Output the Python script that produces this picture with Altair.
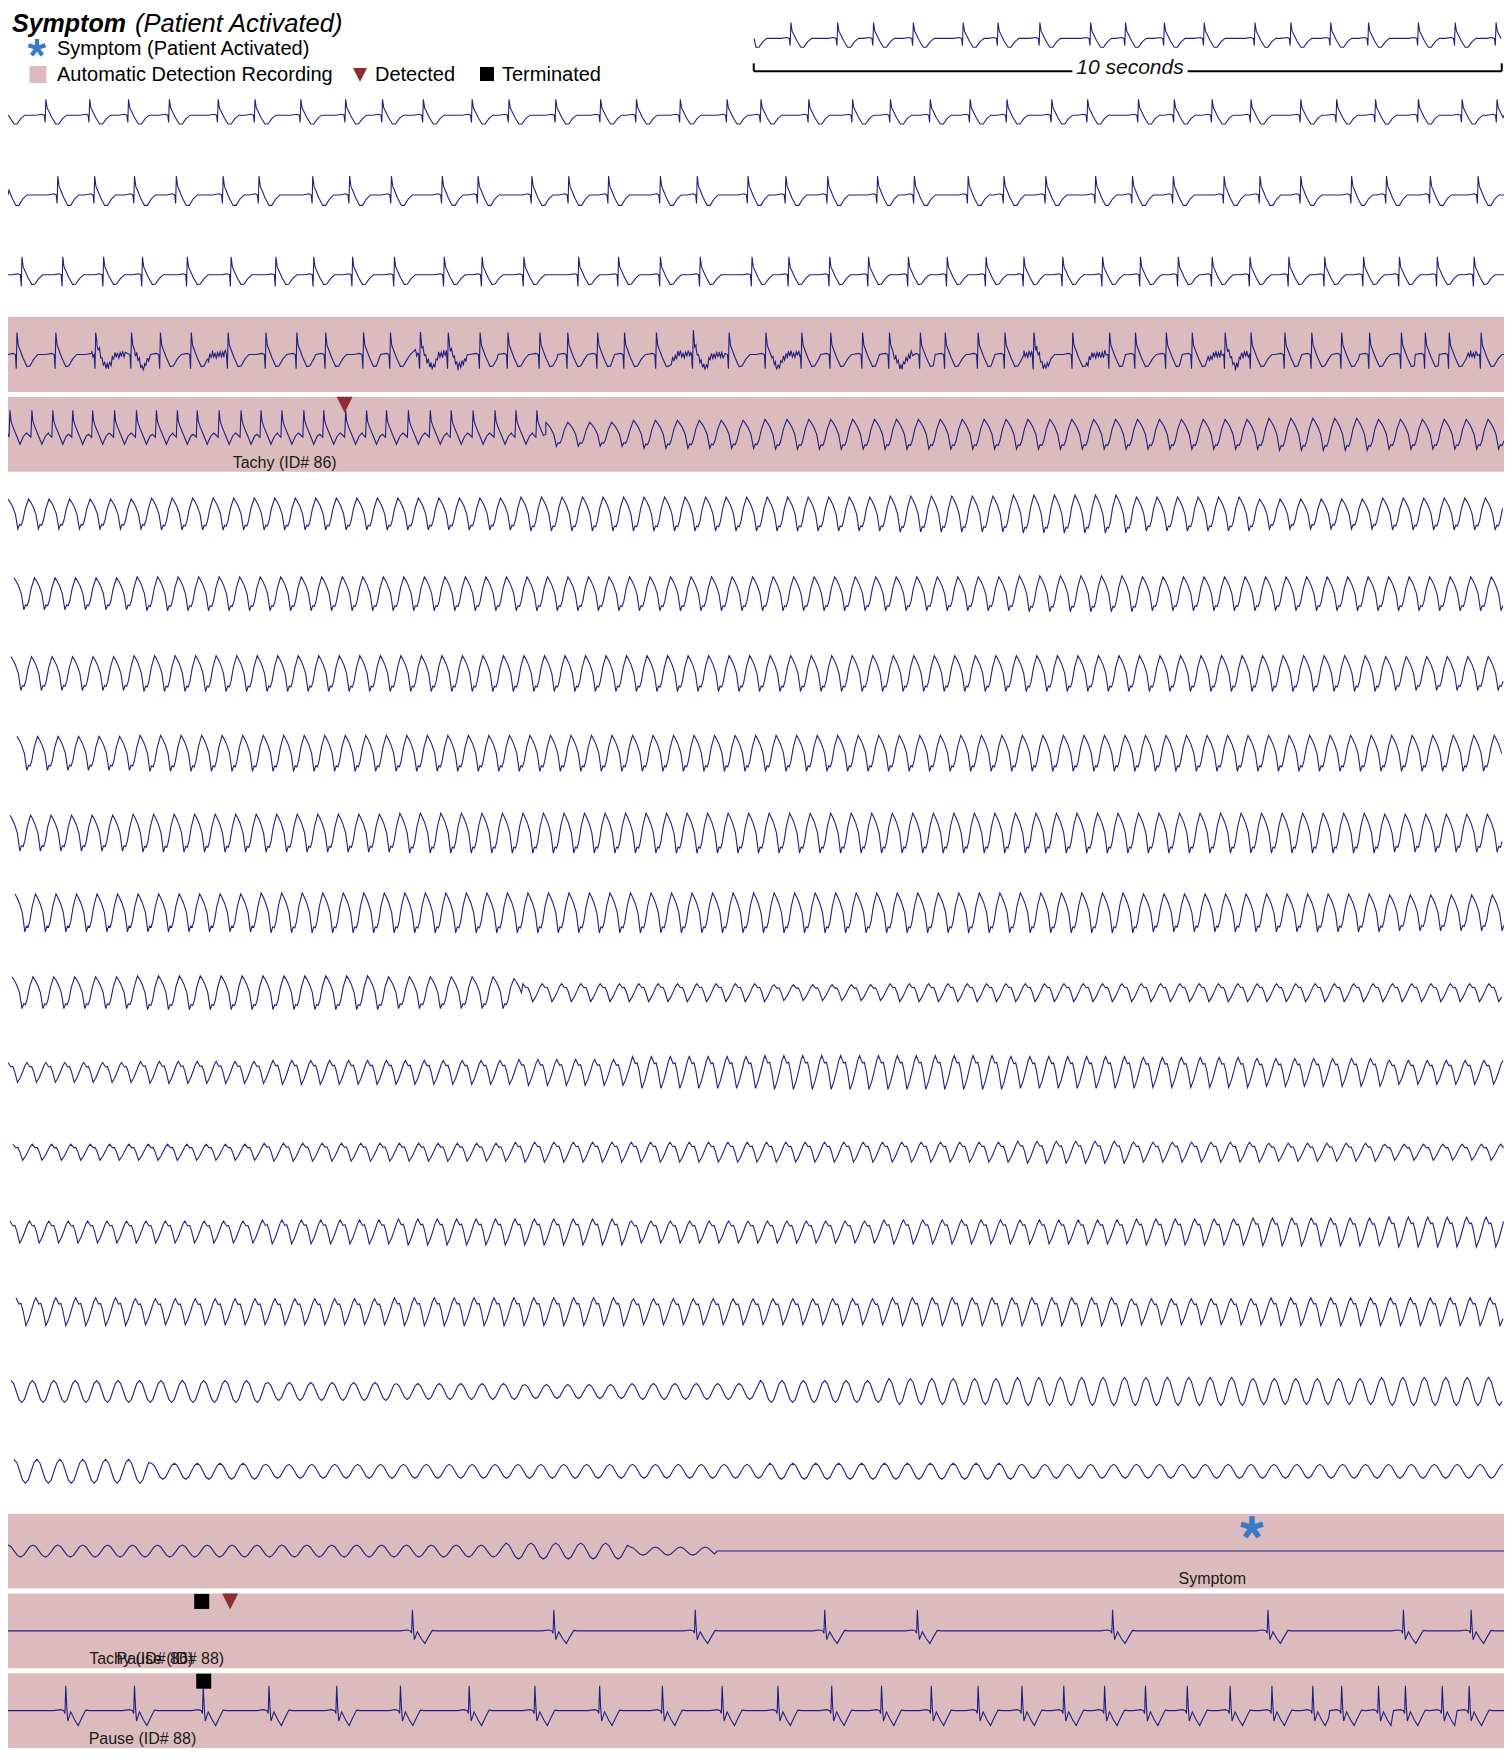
import math
import altair as alt
import numpy as np
import pandas as pd

# ---------------- recording constants ----------------
FS = 75.1            # samples per second along a strip
SPAN = 1502          # samples in one 20 s strip
BLOCK = 125          # samples per amplitude-envelope block
GAP = 80.0           # amplitude units between strip baselines
TOP_BASE = 77.0      # baseline of the 10 s presenting-rhythm strip
HALF_BAND = 37.5     # half height of the shaded recording band

TRACE = "#22207f"
BAND = "#dbbbbd"
DETECT = "#8c2f33"
STAR = "#3a78c8"
FONT = "Liberation Sans"

# ---------------- beat positions (sample index within strip) ----------------
TOP_BEATS = [741, 786, 833, 869, 909, 959, 994, 1036, 1087, 1122, 1161, 1201,
             1252, 1288, 1328, 1366, 1416, 1453, 1494]
ROW1_BEATS = [-4, 38, 82, 121, 162, 211, 248, 294, 339, 376, 417, 466, 503, 550,
              595, 631, 675, 722, 756, 804, 848, 886, 926, 966, 1003, 1048, 1084,
              1135, 1171, 1209, 1248, 1298, 1334, 1373, 1416, 1460, 1495]
ROW2_BEATS = [-2, 50, 87, 127, 169, 216, 252, 306, 343, 385, 436, 472, 526, 563,
              603, 655, 692, 743, 781, 823, 873, 910, 964, 1000, 1042, 1092, 1129,
              1170, 1221, 1257, 1298, 1349, 1384, 1428, 1476]
ROW3_BEATS = [14, 55, 96, 135, 180, 224, 269, 307, 346, 388, 438, 476, 518, 573,
              613, 655, 695, 747, 784, 825, 864, 904, 943, 982, 1020, 1059, 1099,
              1137, 1175, 1209, 1247, 1286, 1322, 1361, 1397, 1435, 1472]
ROW4_BEATS = [9, 48, 88, 124, 153, 184, 221, 259, 290, 319, 357, 384, 414, 442,
              474, 502, 534, 562, 592, 619, 651, 688, 724, 761, 797, 826, 858, 885,
              916, 941, 974, 1001, 1030, 1069, 1106, 1132, 1163, 1189, 1222, 1248,
              1282, 1309, 1339, 1367, 1399, 1423, 1447, 1479]
ROW5_BEATS = [2, 24, 45, 65, 85, 107, 129, 149, 170, 190, 212, 234, 254, 275, 297,
              317, 339, 360, 380, 402, 424, 445, 467, 489, 510, 531]
ROW20_BEATS = [406, 548, 690, 820, 913, 1109, 1265, 1401, 1469]
ROW21_BEATS = [58, 127, 196, 262, 330, 394, 463, 529, 594, 657, 717, 773, 827, 877,
               927, 974, 1018, 1060, 1101, 1142, 1184, 1227, 1269, 1310, 1339, 1376,
               1403, 1440, 1467]

# noisy stretches of strip 4 (samples) and the artefact wiggle seen there
ROW4_NOISE = [(84, 118), (128, 142), (200, 220), (409, 462), (666, 719), (768, 797),
              (890, 909), (1020, 1045), (1083, 1103), (1205, 1248), (1466, 1476)]
JITTER = [2.5, -3.0, 1.5, -4.0, 3.5, -1.5, 4.0, -2.5, 1.0, -3.5, 2.0, -2.0]

# ---------------- beat morphologies (sample offset, fraction of R height) ----------------
NORMAL_DX = [-10, -4, -1.6, -0.7, 0, 1.3, 3, 6, 10, 13, 17, 21]
NORMAL_DY = [0, 0.06, 0, -0.45, 1.0, 0.45, 0.25, -0.15, -0.55, -0.55, -0.2, 0]
NORMAL_S_DY = [0, 0.05, 0, -0.65, 1.0, 0.42, 0.22, -0.15, -0.55, -0.52, -0.2, 0]
TACHY_DX = [-4, -1, 0, 1, 3, 6.5, 10, 13.5, 16.5]
TACHY_DY = [0, -0.12, 1.0, 0.55, 0.3, -0.05, -0.42, -0.08, 0.05]
WIDE_DX = [-12, -5, -2, -0.8, 0, 1, 2, 5, 9, 12.5, 16, 20, 24]
WIDE_DY = [0, 0.04, 0, -0.12, 1.0, 0.15, -0.42, -0.05, -0.38, -0.6, -0.3, 0.02, 0]

# ---------------- cycle shapes (phase, fraction of amplitude) ----------------
VT_PH = [0, 0.1, 0.22, 0.36, 0.48, 0.56, 0.64, 0.72, 0.84]
VT_VAL = [1.0, 0.8, 0.5, 0.0, -1.0, -0.7, -0.75, -0.45, 0.35]
VF_PH = [0, 0.15, 0.25, 0.35, 0.5, 0.65, 0.8, 0.9]
VF_VAL = [1.0, 0.55, 0.6, 0.1, -1.0, -0.5, 0.2, 0.7]
SINE_PH = [0, 0.125, 0.25, 0.375, 0.5, 0.625, 0.75, 0.875]
SINE_VAL = [1.0, 0.72, 0.0, -0.72, -1.0, -0.72, 0.0, 0.72]

# ---------------- amplitude envelopes (one value per 125-sample block) ----------------
ROW5_ENV = [0, 0, 0, 0, 12, 14, 15, 15, 15, 15, 16, 15]
ROW6_ENV = [15, 16, 16, 16, 17, 17, 17, 18, 19, 17, 15, 16]
ROW7_ENV = [16, 17, 17, 17, 17, 17, 17, 17, 18, 17, 17, 17]
ROW8_ENV = [17, 18, 18, 18, 18, 18, 18, 18, 18, 18, 18, 17]
ROW9_ENV = [17, 18, 18, 18, 18, 18, 18, 18, 18, 18, 18, 18]
ROW10_ENV = [18, 19, 19, 20, 20, 20, 20, 20, 20, 20, 20, 19]
ROW11_ENV = [19, 19, 20, 20, 20, 20, 20, 20, 20, 19, 19, 18]
ROW12_ENV_VT = [16, 17, 17, 16, 14]
ROW12_ENV_VF = [9, 9, 9, 9, 9, 9, 8, 9, 9, 9, 9, 9]
ROW13_ENV = [10, 11, 12, 12, 13, 16, 17, 17, 16, 15, 14, 12]
ROW14_ENV = [8, 8, 9, 9, 10, 10, 10, 10, 11, 10, 9, 8]
ROW15_ENV = [11, 11, 12, 13, 13, 11, 11, 12, 12, 13, 14, 15]
ROW16_ENV = [14, 13, 13, 14, 14, 13, 13, 14, 14, 13, 14, 14]
ROW17_ENV = [11, 11, 9, 8, 7, 8, 11, 13, 14, 14, 13, 14]
ROW18_ENV = [12, 8, 7, 7, 7, 7, 8, 8, 7, 7, 7, 7]
ROW19_ENV = [6, 6, 6, 6, 8, 4]

SHADED_ROWS = [3, 4, 18, 19, 20]

# events: (strip, sample)
DETECTED = [(4, 338), (19, 223)]
TERMINATED = [(19, 194.5), (20, 196.5)]
SYMPTOMS = [(18, 1249)]
MARK_UP = 29.5      # marker height above strip baseline
STAR_UP = 23.5
LABELS = [("Tachy (ID# 86)", 4, 330), ("Tachy (ID# 86)", 19, 186),
          ("Pause (ID# 88)", 19, 217), ("Pause (ID# 88)", 20, 189),
          ("Symptom", 18, 1243)]
LABEL_DOWN = -33.5

# 10-second calibration bar (seconds) and its height
SCALE_T = [9.97, 19.97]
SCALE_GAP = [14.23, 15.77]
SCALE_V = 44.0
TICK_V = 52.0
SCALE_TEXT_V = 41.0

TEMPLATES = {"normal": (NORMAL_DX, NORMAL_DY), "normal_s": (NORMAL_DX, NORMAL_S_DY),
             "tachy": (TACHY_DX, TACHY_DY), "wide": (WIDE_DX, WIDE_DY)}
CYCLES = {"vt": (VT_PH, VT_VAL), "vf": (VF_PH, VF_VAL), "sine": (SINE_PH, SINE_VAL)}

ROW_PIECES = {
    -1: [("beats", TOP_BEATS, "normal", 16, 749, 1499)],
    0: [("beats", ROW1_BEATS, "normal", 16, 0, SPAN)],
    1: [("beats", ROW2_BEATS, "normal", 19, 0, SPAN)],
    2: [("beats", ROW3_BEATS, "normal_s", 18, 0, SPAN)],
    3: [("beats", ROW4_BEATS, "normal_s", 22, 0, SPAN)],
    4: [("beats", ROW5_BEATS, "tachy", 24, 0, 540), ("cycles", 540, SPAN, 22.0, "vt", ROW5_ENV)],
    5: [("cycles", 0, SPAN, 20.6, "vt", ROW6_ENV)],
    6: [("cycles", 6, SPAN, 20.6, "vt", ROW7_ENV)],
    7: [("cycles", 3, SPAN, 20.6, "vt", ROW8_ENV)],
    8: [("cycles", 9, SPAN, 20.6, "vt", ROW9_ENV)],
    9: [("cycles", 2, SPAN, 20.6, "vt", ROW10_ENV)],
    10: [("cycles", 7, SPAN, 20.6, "vt", ROW11_ENV)],
    11: [("cycles", 4, 517, 21.0, "vt", ROW12_ENV_VT), ("cycles", 517, SPAN, 19.4, "vf", ROW12_ENV_VF)],
    12: [("cycles", 0, SPAN, 19.0, "vf", ROW13_ENV)],
    13: [("cycles", 5, SPAN, 19.4, "vf", ROW14_ENV)],
    14: [("cycles", 2, SPAN, 19.5, "vf", ROW15_ENV)],
    15: [("cycles", 8, SPAN, 20.0, "vf", ROW16_ENV)],
    16: [("cycles", 3, SPAN, 21.5, "sine", ROW17_ENV)],
    17: [("cycles", 6, SPAN, 23.0, "sine", ROW18_ENV)],
    18: [("cycles", 0, 712, 25.0, "sine", ROW19_ENV), ("flat", 712, SPAN)],
    19: [("beats", ROW20_BEATS, "wide", 21, 0, SPAN)],
    20: [("beats", ROW21_BEATS, "wide", 25, 0, SPAN)],
}


def beat_piece(beats, tpl, H, lo, hi):
    dx, dy = TEMPLATES[tpl]
    out = []
    for k, b in enumerate(beats):
        stop = beats[k + 1] + dx[0] if k + 1 < len(beats) else hi + 1
        for a, c in zip(dx, dy):
            x = b + a
            if lo <= x < stop and x <= hi:
                out.append((x, c * H))
    if not out or out[0][0] > lo:
        out.insert(0, (lo, 0.0))
    if out[-1][0] < hi:
        out.append((hi, 0.0))
    return out


def cycle_piece(lo, hi, period, tpl, env):
    ph, val = CYCLES[tpl]
    out = []
    c = lo
    while c < hi:
        A = env[min(int(c // BLOCK), len(env) - 1)]
        for p, w in zip(ph, val):
            x = c + p * period
            if x <= hi:
                out.append((x, w * A))
        c += period
    return out


def build(pieces):
    pts = []
    for pc in pieces:
        if pc[0] == "beats":
            pts += beat_piece(*pc[1:])
        elif pc[0] == "cycles":
            pts += cycle_piece(*pc[1:])
        else:
            pts += [(pc[1], 0.0), (pc[2], 0.0)]
    return sorted(pts, key=lambda p: p[0])


def add_noise(pts, segments):
    xs = np.array([p[0] for p in pts])
    ys = np.array([p[1] for p in pts])
    extra = []
    k = 0
    for a, b in segments:
        x = float(a)
        while x < b:
            extra.append((x, float(np.interp(x, xs, ys)) + JITTER[k % len(JITTER)]))
            x += 1.3
            k += 1
    return sorted(pts + extra, key=lambda p: p[0])


recs = []
for row, pieces in ROW_PIECES.items():
    pts = build(pieces)
    if row == 3:
        pts = add_noise(pts, ROW4_NOISE)
    base = TOP_BASE if row < 0 else -GAP * row
    for i, (x, y) in enumerate(pts):
        recs.append({"strip": row, "i": i, "t": x / FS, "v": base + y})
traces = pd.DataFrame(recs)

bands = pd.DataFrame({
    "t0": [0.0] * len(SHADED_ROWS),
    "t1": [SPAN / FS] * len(SHADED_ROWS),
    "v0": [-GAP * r - HALF_BAND for r in SHADED_ROWS],
    "v1": [-GAP * r + HALF_BAND for r in SHADED_ROWS],
})

bar = pd.DataFrame({
    "t0": [SCALE_T[0], SCALE_GAP[1], SCALE_T[0], SCALE_T[1]],
    "t1": [SCALE_GAP[0], SCALE_T[1], SCALE_T[0], SCALE_T[1]],
    "v0": [SCALE_V, SCALE_V, SCALE_V, SCALE_V],
    "v1": [SCALE_V, SCALE_V, TICK_V, TICK_V],
})

det = pd.DataFrame({"t": [s / FS for r, s in DETECTED], "v": [-GAP * r + MARK_UP for r, s in DETECTED]})
term = pd.DataFrame({"t": [s / FS for r, s in TERMINATED], "v": [-GAP * r + MARK_UP for r, s in TERMINATED]})
sym = pd.DataFrame({"t": [s / FS for r, s in SYMPTOMS], "v": [-GAP * r + STAR_UP for r, s in SYMPTOMS]})
labs = pd.DataFrame({"label": [l for l, r, s in LABELS], "t": [s / FS for l, r, s in LABELS],
                     "v": [-GAP * r + LABEL_DOWN for l, r, s in LABELS]})
scale_txt = pd.DataFrame({"label": ["10 seconds"], "t": [sum(SCALE_T) / 2 + 0.03], "v": [SCALE_TEXT_V]})

XS = alt.Scale(domain=[0, SPAN / FS], nice=False, zero=False)
YS = alt.Scale(domain=[-1637.5, 107.5], nice=False, zero=False)
X = alt.X("t:Q", scale=XS, axis=None)
Y = alt.Y("v:Q", scale=YS, axis=None)

TRI = "M-1,-1L1,-1L0,1Z"


def asterisk_path(arms=5, half_width=0.24):
    parts = []
    for k in range(arms):
        a = math.radians(-90 + 360.0 * k / arms)
        dx, dy = math.cos(a), math.sin(a)
        px, py = -dy * half_width, dx * half_width
        pts = [(px, py), (dx + px, dy + py), (dx - px, dy - py), (-px, -py)]
        parts.append("M" + "L".join(f"{x:.3f},{y:.3f}" for x, y in pts) + "Z")
    return "".join(parts)


STAR_PATH = asterisk_path()

layers = []
layers.append(alt.Chart(bands).mark_rect(color=BAND).encode(
    x=alt.X("t0:Q", scale=XS, axis=None), x2="t1",
    y=alt.Y("v0:Q", scale=YS, axis=None), y2="v1"))
layers.append(alt.Chart(traces).mark_line(color=TRACE, strokeWidth=1.1).encode(
    x=X, y=Y, detail="strip:N", order="i:Q"))
layers.append(alt.Chart(bar).mark_rule(color="#000000", strokeWidth=2).encode(
    x=alt.X("t0:Q", scale=XS, axis=None), x2="t1",
    y=alt.Y("v0:Q", scale=YS, axis=None), y2="v1"))
layers.append(alt.Chart(scale_txt).mark_text(font=FONT, fontSize=21, fontStyle="italic",
                                             baseline="alphabetic", align="center", color="#111111").encode(
    x=X, y=Y, text="label:N"))
layers.append(alt.Chart(det).mark_point(shape=TRI, filled=True, size=256, opacity=1,
                                        color=DETECT, strokeWidth=0).encode(x=X, y=Y))
layers.append(alt.Chart(term).mark_point(shape="square", filled=True, size=225, opacity=1,
                                         color="#000000", strokeWidth=0).encode(x=X, y=Y))
layers.append(alt.Chart(sym).mark_point(shape=STAR_PATH, filled=True, size=529, opacity=1,
                                        color=STAR, strokeWidth=0).encode(x=X, y=Y))
layers.append(alt.Chart(labs).mark_text(font=FONT, fontSize=16, baseline="alphabetic",
                                        align="right", color="#1a1a1a").encode(x=X, y=Y, text="label:N"))

# ---------------- header: title and legend ----------------
def htext(txt, x, y, size, weight="normal", style="normal", color="#000000", align="left"):
    return alt.Chart(pd.DataFrame({"s": [txt]})).mark_text(
        font=FONT, fontSize=size, fontWeight=weight, fontStyle=style, color=color,
        baseline="alphabetic", align=align).encode(text="s:N", x=alt.value(x), y=alt.value(y))

def hsym(shape, x, y, size, color):
    return alt.Chart(pd.DataFrame({"s": [0]})).mark_point(
        shape=shape, filled=True, size=size, opacity=1, color=color, strokeWidth=0).encode(
        x=alt.value(x), y=alt.value(y))

layers += [
    htext("Symptom", 4, 23.5, 25, weight="bold", style="italic"),
    htext("(Patient Activated)", 127, 23.5, 25.5, style="italic"),
    hsym(STAR_PATH, 29, 40, 324, STAR),
    htext("Symptom (Patient Activated)", 49, 47, 20),
    hsym("square", 30, 66.5, 289, BAND),
    htext("Automatic Detection Recording", 49, 73, 20),
    hsym(TRI, 352, 67, 196, DETECT),
    htext("Detected", 367, 73, 20),
    hsym("square", 479, 66, 196, "#000000"),
    htext("Terminated", 494, 73, 20),
]

chart = alt.layer(*layers).properties(
    width=1496, height=1740, padding=0,
    autosize=alt.AutoSizeParams(type="none"),
    background="#ffffff",
).configure_view(stroke=None)

chart.save("out.html", embed_options={"renderer": "svg", "actions": False})
